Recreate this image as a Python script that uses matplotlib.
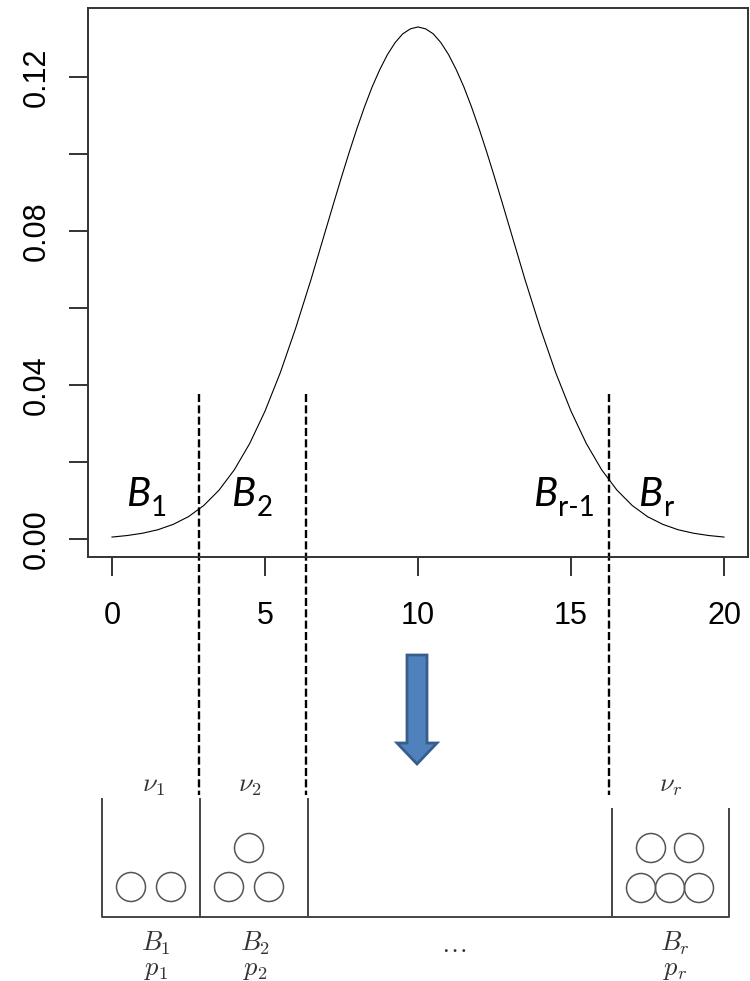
import matplotlib.pyplot as plt
from matplotlib.patches import Circle, Polygon

# density curve (finer steps near the peak)
x_vals = [0, 0.5, 1, 1.5, 2, 2.5, 3, 3.5, 4, 4.5, 5, 5.5, 6, 6.5, 7, 7.25, 7.5,
          7.75, 8, 8.25, 8.5, 8.75, 9, 9.25, 9.5, 9.75, 10, 10.25, 10.5, 10.75,
          11, 11.25, 11.5, 11.75, 12, 12.25, 12.5, 12.75, 13, 13.5, 14, 14.5,
          15, 15.5, 16, 16.5, 17, 17.5, 18, 18.5, 19, 19.5, 20]
y_vals = [0.0005, 0.0009, 0.0015, 0.0024, 0.0038, 0.0058, 0.0087, 0.0127, 0.0180,
          0.0248, 0.0332, 0.0432, 0.0547, 0.0673, 0.0807, 0.0874, 0.0940, 0.1004,
          0.1065, 0.1122, 0.1174, 0.1219, 0.1258, 0.1289, 0.1312, 0.1325, 0.1330,
          0.1325, 0.1312, 0.1289, 0.1258, 0.1219, 0.1174, 0.1122, 0.1065, 0.1004,
          0.0940, 0.0874, 0.0807, 0.0673, 0.0547, 0.0432, 0.0332, 0.0248, 0.0180,
          0.0127, 0.0087, 0.0058, 0.0038, 0.0024, 0.0015, 0.0009, 0.0005]

# bin boundaries (dashed lines)
bin_edges = [2.85, 6.35, 16.25]
bin_names = [('B', '1'), ('B', '2'), ('B', 'r-1'), ('B', 'r')]
bin_label_x = [0.45, 3.9, 13.75, 17.2]

y_ticks = [0.00, 0.02, 0.04, 0.06, 0.08, 0.10, 0.12]
y_ticklabels = ['0.00', '', '0.04', '', '0.08', '', '0.12']
x_ticks = [0, 5, 10, 15, 20]

W, H = 750, 981
fig = plt.figure(figsize=(W / 100, H / 100), dpi=100)
ax = fig.add_axes([88 / W, (H - 557) / H, 660 / W, 549 / H])

ax.plot(x_vals, y_vals, color='black', lw=0.8)
ax.set_xlim(-0.784, 20.784)
ax.set_ylim(-0.00468, 0.13792)

ax.set_xticks(x_ticks)
ax.set_xticklabels([str(t) for t in x_ticks], fontsize=22, family='Liberation Sans')
ax.set_yticks(y_ticks)
ax.set_yticklabels(y_ticklabels, fontsize=22, family='Liberation Sans',
                   rotation=90, va='center')
ax.tick_params(axis='x', length=14, width=1.4, color='#333333', pad=18)
ax.tick_params(axis='y', length=14, width=1.4, color='#333333', pad=12)
for s in ax.spines.values():
    s.set_linewidth(1.4)
    s.set_color('#333333')

# dashed bin boundaries, running down into the diagram below
for e in bin_edges:
    ax.plot([e, e], [0.0377, -0.0665], color='black', lw=1.7,
            dashes=(3.4, 1.4), clip_on=False)

# overlay in pixel coordinates for the annotations and the box diagram
ov = fig.add_axes([0, 0, 1, 1])
ov.set_xlim(0, W)
ov.set_ylim(H, 0)
ov.axis('off')
ov.patch.set_alpha(0)

for (b, sub), bx in zip(bin_names, bin_label_x):
    px = ax.transData.transform((bx, 0))[0]
    t = ov.text(px, 506, b, fontsize=29, family='Lato', style='italic',
                va='baseline', ha='left')
    fig.canvas.draw()
    bb = t.get_window_extent()
    ov.text(bb.x1 + 1, 516, sub, fontsize=20, family='Lato',
            va='baseline', ha='left')

# blue arrow
arrow = Polygon([(407, 655), (427, 655), (427, 743), (437, 743), (417, 764),
                 (397, 743), (407, 743)], closed=True,
                facecolor='#4F81BD', edgecolor='#385D8A', lw=2)
ov.add_patch(arrow)

# boxes
gray = '#444444'
ov.plot([102, 102, 729, 729], [799, 917, 917, 809], color=gray, lw=1.4)
for bx, top in [(200, 799), (308, 799), (612, 809)]:
    ov.plot([bx, bx], [top, 917], color=gray, lw=1.4)

balls = [(131, 887), (171, 887), (229, 887), (269, 887), (249, 848),
         (641, 888), (670, 888), (699, 888), (651, 848), (689, 848)]
for cx, cy in balls:
    ov.add_patch(Circle((cx, cy), 14.5, fill=False, edgecolor='#555555', lw=1.1))

plt.rcParams['mathtext.fontset'] = 'cm'
labels = [(153, 785, r'$\nu_1$'), (250, 785, r'$\nu_2$'), (671, 785, r'$\nu_r$'),
          (156, 943, r'$B_1$'), (255, 943, r'$B_2$'), (675, 943, r'$B_r$'),
          (156, 969, r'$p_1$'), (255, 969, r'$p_2$'), (675, 969, r'$p_r$'),
          (454, 945, r'$\ldots$')]
for lx, ly, s in labels:
    ov.text(lx, ly, s, fontsize=19, color='#333333', ha='center', va='center')

fig.savefig('out.png', dpi=100)
